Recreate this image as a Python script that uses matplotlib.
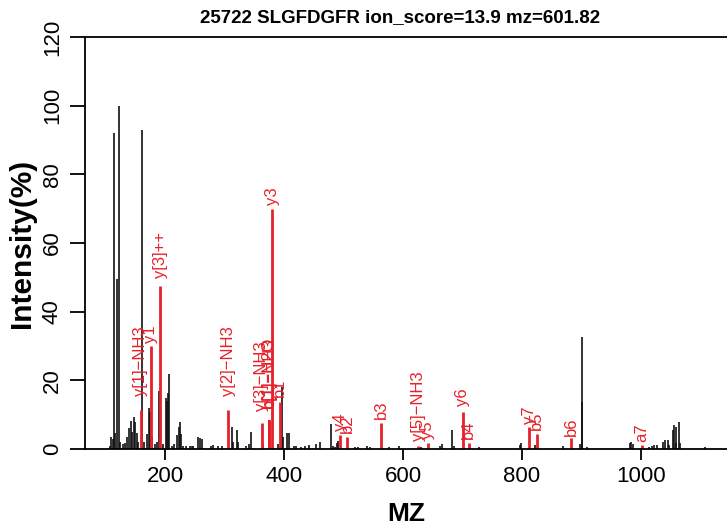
import matplotlib
matplotlib.use('Agg')
import matplotlib.pyplot as plt

plt.rcParams['font.family'] = ['Liberation Sans', 'DejaVu Sans']

title = "25722 SLGFDGFR ion_score=13.9 mz=601.82"
x_label = "MZ"
y_label = "Intensity(%)"
x_ticks = [200, 400, 600, 800, 1000]
y_ticks = [0, 20, 40, 60, 80, 100, 120]

# unannotated peaks (m/z, relative intensity %)
peak_mz = [107, 110, 113, 114, 116, 120, 122, 124, 128.8, 133, 136, 140, 143, 145,
           147.4, 149.6, 152.5, 155, 161, 165, 169, 172.5, 174.8, 179, 183, 186, 190,
           196, 201, 203, 204.5, 206, 211, 216, 220.6, 223, 224.5, 226.8, 230, 236,
           242, 245, 247.5, 256, 259, 262, 277, 281, 288.5, 295, 312, 314, 321.5,
           323.5, 337, 341, 344.5, 365.5, 375, 390, 396, 399, 405.5, 409, 417, 421,
           429, 435, 442.5, 453, 460.5, 479, 482, 486, 488.5, 490, 519.5, 525, 539,
           545, 577, 594, 631, 662, 665, 682, 686, 728, 797, 799, 822, 869, 897, 900,
           901.5, 908.5, 982, 984, 986, 1014, 1018, 1022.5, 1027.5, 1037.5, 1040,
           1045, 1047, 1054, 1056, 1058, 1059.5, 1064, 1066, 1108]
peak_int = [1.0, 3.5, 3.0, 92, 4.6, 49.5, 100, 2.0, 1.5, 1.7, 3.5, 6.0, 8.2, 5.0,
            9.3, 8.0, 4.6, 2.0, 93, 2.0, 4.5, 12, 10.9, 3.6, 1.5, 2.0, 17,
            1.5, 14.8, 14, 16.3, 21.8, 1.0, 1.5, 4.0, 6.5, 8.0, 4.5, 1.0, 1.0,
            1.0, 0.8, 1.0, 3.6, 3.3, 2.8, 1.0, 1.2, 0.8, 1.0, 6.5, 2.0, 5.5,
            2.0, 1.0, 1.5, 5.0, 1.5, 8.4, 1.5, 18, 3.6, 4.7, 4.6, 1.0, 1.0,
            0.7, 1.0, 1.3, 1.4, 2.1, 7.3, 1.0, 0.7, 1.7, 2.4, 0.7, 0.7, 1.0,
            0.5, 0.5, 1.0, 0.5, 0.9, 1.5, 5.5, 1.0, 0.7, 1.2, 1.7, 1.2, 1.0, 1.5, 32.5,
            13.8, 0.7, 1.7, 1.9, 1.5, 0.7, 0.9, 1.2, 1.2, 2.1, 2.6,
            2.6, 1.2, 5.5, 7.0, 6.5, 1.7, 8.0, 1.7, 0.5]

# annotated fragment ions
ion_labels = ["y[1]\u2212NH3", "y1", "y[3]++", "y[2]\u2212NH3", "y[3]\u2212NH3",
              "b[1]\u2212H2O", "b[1]\u2212NH3", "y3", "b1", "y4", "b2", "b3",
              "y[5]\u2212NH3", "y5", "y6", "b4", "y7", "b5", "b6", "a7"]
ion_mz = [159, 176, 192, 306.5, 362.5, 374.5, 375.5, 380.5, 392.5, 494.5, 506.5, 563,
          625.5, 642, 700, 710.5, 812.5, 825, 883, 1001.5]
ion_int = [11.5, 30, 47.5, 11.4, 7.5, 8.4, 8.4, 70, 13.8, 4.1, 3.4, 7.5,
           0.8, 1.8, 10.9, 1.7, 6.5, 4.4, 3.1, 1.2]
# label gap above each ion peak (points) -- styling
label_gap = [10, 2.5, 6, 10, 9, 9, 9, 3, 3, 3, 3, 3, 4, 3, 4, 3, 2, 3, 2, 2]

W, H = 727, 527
fig = plt.figure(figsize=(W / 100, H / 100), dpi=100)
ax = fig.add_axes([85 / W, 1 - 449 / H, 1 - 85 / W, (449 - 37) / H])

red = '#E8202A'
ax.vlines(peak_mz, 0, peak_int, color='#111111', lw=1.2)
ax.vlines(ion_mz, 0, ion_int, color=red, lw=2)
for m, h, lab, g in zip(ion_mz, ion_int, ion_labels, label_gap):
    ax.annotate(lab, (m, h), xytext=(0, g), textcoords='offset points',
                rotation=90, ha='center', va='bottom', color=red, fontsize=12)

ax.set_xlim(65.6, 1144.5)
ax.set_ylim(0, 120)
for s in ['left', 'top', 'bottom']:
    ax.spines[s].set_linewidth(1.3)
ax.spines['right'].set_visible(False)

ax.set_xticks(x_ticks)
ax.set_yticks(y_ticks)
ax.tick_params(axis='x', length=8, width=1.3, direction='out', labelsize=16, pad=4)
ax.tick_params(axis='y', length=11, width=1.3, direction='out', labelsize=16,
               pad=5, labelrotation=90)
for lab in ax.get_yticklabels():
    lab.set_va('center')

fig.text(22 / W, 1 - 243 / H, y_label, rotation=90, ha='center', va='center',
         fontsize=21.5, fontweight='bold')
fig.text(406 / W, 1 - 514 / H, x_label, ha='center', va='center',
         fontsize=19, fontweight='bold')
fig.text(400 / W, 1 - 18 / H, title, ha='center', va='center',
         fontsize=13.5, fontweight='bold')

fig.savefig('out.png', dpi=100)
